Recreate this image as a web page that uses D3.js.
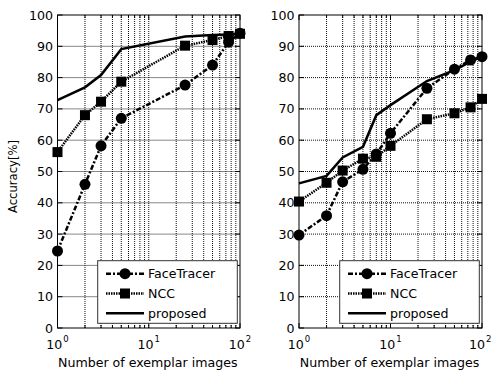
<!DOCTYPE html>
<html>
<head>
<meta charset="utf-8">
<script src="https://cdn.jsdelivr.net/npm/d3@7"></script>
<style>
  body { margin: 0; background: #fff; }
  svg { display: block; font-family: "DejaVu Sans", sans-serif; }
</style>
</head>
<body>
<svg id="chart" width="492" height="371"></svg>
<script>
// exemplar counts
const xLeft = [1, 2, 3, 5, 25, 50, 75, 100];
const xRight = [1, 2, 3, 5, 7, 10, 25, 50, 75, 100];

// left panel
const faceTracerLeft = [24.6, 45.9, 58.2, 67.0, 77.6, 84.0, 91.3, 94.2];
const nccLeft = [56.2, 68.0, 72.3, 78.7, 90.2, 92.0, 93.3, 94.0];
const proposedLeft = [72.8, 76.9, 80.8, 89.1, 93.1, 93.6, 93.8, 94.0];

// right panel
const faceTracerRight = [29.7, 35.9, 46.7, 50.7, 55.6, 62.2, 76.6, 82.7, 85.6, 86.7];
const nccRight = [40.4, 46.4, 50.3, 54.1, 54.7, 58.2, 66.7, 68.6, 70.5, 73.2];
const proposedRight = [46.2, 48.6, 54.5, 57.9, 68.0, 71.2, 78.9, 82.4, 85.1, 86.7];

const yTicks = [0, 10, 20, 30, 40, 50, 60, 70, 80, 90, 100];
const xMajor = [1, 10, 100];
const seriesNames = ["FaceTracer", "NCC", "proposed"];

const svg = d3.select("#chart");
const W = 492;
const plotTop = 15, plotBottom = 328;
const fs = 12.6;

const styles = {
    FaceTracer: {dash: "5,2,2,2", marker: "circle"},
    NCC: {dash: "1.5,1", marker: "square"},
    proposed: {dash: null, marker: null}
};

function panel(left, right, xs, data) {
    const g = svg.append("g");
    const x = d3.scaleLog().domain([1, 100]).range([left, right]);
    const y = d3.scaleLinear().domain([0, 100]).range([plotBottom, plotTop]);

    const minor = [];
    [1, 10].forEach(d => { for (let k = 2; k <= 9; k++) minor.push(d * k); });

    // grid
    g.selectAll(".vgrid")
        .data(minor.concat([10]))
        .join("line")
        .attr("x1", d => x(d)).attr("x2", d => x(d))
        .attr("y1", plotTop).attr("y2", plotBottom)
        .attr("stroke", "#111").attr("stroke-width", 1)
        .attr("stroke-dasharray", "1,1");
    g.selectAll(".hgrid")
        .data(yTicks.slice(1, -1))
        .join("line")
        .attr("x1", left).attr("x2", right)
        .attr("y1", d => y(d)).attr("y2", d => y(d))
        .attr("stroke", "#111").attr("stroke-width", 1)
        .attr("stroke-dasharray", "1,1");

    // inward ticks
    const ticks = g.append("g").attr("stroke", "#000").attr("stroke-width", 1);
    minor.forEach(d => {
        ticks.append("line").attr("x1", x(d)).attr("x2", x(d)).attr("y1", plotBottom).attr("y2", plotBottom - 3);
        ticks.append("line").attr("x1", x(d)).attr("x2", x(d)).attr("y1", plotTop).attr("y2", plotTop + 3);
    });
    xMajor.forEach(d => {
        ticks.append("line").attr("x1", x(d)).attr("x2", x(d)).attr("y1", plotBottom).attr("y2", plotBottom - 5);
        ticks.append("line").attr("x1", x(d)).attr("x2", x(d)).attr("y1", plotTop).attr("y2", plotTop + 5);
    });
    yTicks.forEach(d => {
        ticks.append("line").attr("x1", left).attr("x2", left + 5).attr("y1", y(d)).attr("y2", y(d));
        ticks.append("line").attr("x1", right).attr("x2", right - 5).attr("y1", y(d)).attr("y2", y(d));
    });

    // y tick labels
    g.selectAll(".ylab")
        .data(yTicks)
        .join("text")
        .attr("x", left - 4.5)
        .attr("y", d => y(d) + 4.5)
        .attr("text-anchor", "end")
        .attr("font-size", fs)
        .text(d => d);

    // x tick labels 10^n
    xMajor.forEach(d => {
        const t = g.append("text")
            .attr("x", x(d))
            .attr("y", 349)
            .attr("text-anchor", "middle")
            .attr("font-size", fs);
        t.append("tspan").text("10");
        t.append("tspan").attr("dx", 1).attr("dy", -7).attr("font-size", 8.5).text(Math.round(Math.log10(d)));
        // keep the last label inside the window
        const w = t.node().getComputedTextLength();
        if (x(d) + w / 2 > W - 1) t.attr("x", W - 1 - w / 2);
    });

    g.append("text")
        .attr("x", (left + right) / 2 - 1)
        .attr("y", 366.5)
        .attr("text-anchor", "middle")
        .attr("font-size", fs)
        .text("Number of exemplar images");

    // series
    const line = d3.line().x(d => x(d[0])).y(d => y(d[1]));
    seriesNames.forEach((name, i) => {
        const pts = xs.map((v, j) => [v, data[i][j]]);
        const st = styles[name];
        g.append("path")
            .datum(pts)
            .attr("d", line)
            .attr("fill", "none")
            .attr("stroke", "#000")
            .attr("stroke-width", 2.5)
            .attr("stroke-dasharray", st.dash);
        if (st.marker === "circle") {
            g.selectAll(".c" + i).data(pts).join("circle")
                .attr("cx", d => x(d[0])).attr("cy", d => y(d[1]))
                .attr("r", 5.5).attr("fill", "#000");
        } else if (st.marker === "square") {
            g.selectAll(".s" + i).data(pts).join("rect")
                .attr("x", d => x(d[0]) - 5).attr("y", d => y(d[1]) - 5)
                .attr("width", 10).attr("height", 10).attr("fill", "#000");
        }
    });

    // axes box
    g.append("rect")
        .attr("x", left).attr("y", plotTop)
        .attr("width", right - left).attr("height", plotBottom - plotTop)
        .attr("fill", "none").attr("stroke", "#000").attr("stroke-width", 1);

    // legend
    const lx = right - 142.3, ly = 260.7;
    const leg = g.append("g");
    leg.append("rect")
        .attr("x", lx).attr("y", ly).attr("width", 139.6).attr("height", 62.6)
        .attr("fill", "#fff").attr("stroke", "#333").attr("stroke-width", 1);
    seriesNames.forEach((name, i) => {
        const st = styles[name];
        const yy = ly + 13 + i * 19.8;
        leg.append("line")
            .attr("x1", lx + 8.3).attr("x2", lx + 46.3)
            .attr("y1", yy).attr("y2", yy)
            .attr("stroke", "#000").attr("stroke-width", 2.5)
            .attr("stroke-dasharray", st.dash);
        if (st.marker === "circle") {
            leg.append("circle").attr("cx", lx + 27.3).attr("cy", yy).attr("r", 5.5);
        } else if (st.marker === "square") {
            leg.append("rect").attr("x", lx + 22.3).attr("y", yy - 5).attr("width", 10).attr("height", 10);
        }
        leg.append("text")
            .attr("x", lx + 50.3).attr("y", yy + 4.5)
            .attr("font-size", fs)
            .text(name);
    });
}

panel(57.5, 240, xLeft, [faceTracerLeft, nccLeft, proposedLeft]);
panel(299, 482, xRight, [faceTracerRight, nccRight, proposedRight]);

svg.append("text")
    .attr("transform", "translate(16.5,176.5) rotate(-90)")
    .attr("text-anchor", "middle")
    .attr("font-size", 11.6)
    .text("Accuracy[%]");
</script>
</body>
</html>
